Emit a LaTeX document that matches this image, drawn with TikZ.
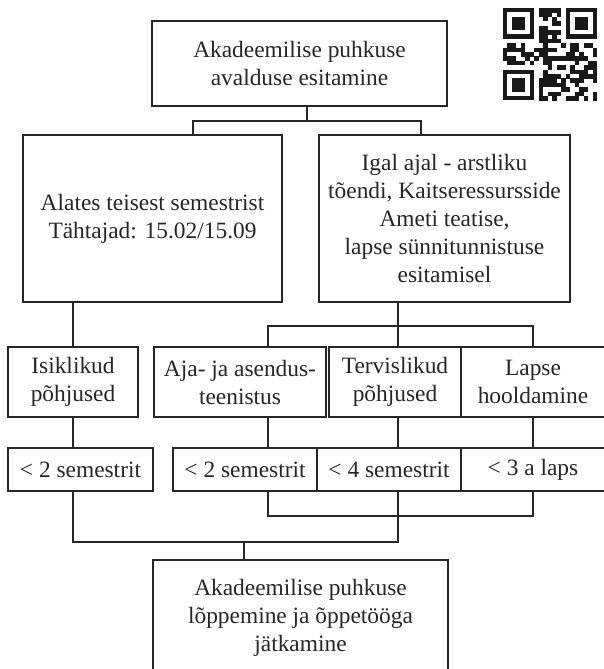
\documentclass[tikz,border=0pt]{standalone}
\usepackage{fontspec}
\setmainfont{Liberation Serif}

\begin{document}
\begin{tikzpicture}[x=1pt,y=-1pt,
    blok/.style={draw=black!85,line width=1.2pt,text=black!85,align=center,
      inner sep=0pt,font=\fontsize{23.4}{28}\selectfont},
    joon/.style={draw=black!85,line width=1.2pt}]
  \useasboundingbox (0,0) rectangle (603,669);
  % kastid
  \node[blok,minimum width=295,minimum height=85]  (avaldus) at (299.5,63.5) {Akadeemilise puhkuse\\avalduse esitamine};
  \node[blok,minimum width=259,minimum height=167] (alates)  at (152.5,218.5) {Alates teisest semestrist\\T\"ahtajad: 15.02/15.09};
  \node[blok,minimum width=251,minimum height=167] (igal)    at (444.5,218.5) {Igal ajal - arstliku\\t\~oendi, Kaitseressursside\\Ameti teatise,\\lapse s\"unnitunnistuse\\esitamisel};
  \node[blok,minimum width=130,minimum height=70]  (isik)    at (73,382)  {Isiklikud\\p\~ohjused};
  \node[blok,minimum width=172,minimum height=70]  (aja)     at (240,382) {Aja- ja asendus-\\teenistus};
  \node[blok,minimum width=132,minimum height=70]  (terv)    at (395,382) {Tervislikud\\p\~ohjused};
  \node[blok,minimum width=144,minimum height=70]  (lapse)   at (533,382) {Lapse\\hooldamine};
  \node[blok,minimum width=145,minimum height=43]  (sem1)    at (80.5,469.5) {< 2 semestrit};
  \node[blok,minimum width=144,minimum height=43]  (sem2)    at (245,469.5)  {< 2 semestrit};
  \node[blok,minimum width=144,minimum height=43]  (sem4)    at (389,469.5)  {< 4 semestrit};
  \node[blok,minimum width=144,minimum height=43]  (laps3)   at (533,469.5)  {< 3 a laps};
  \node[blok,minimum width=295,minimum height=116] (lopp)    at (300.5,618)  {Akadeemilise puhkuse\\l\~oppemine ja \~oppet\"o\"oga\\j\"atkamine};
  % s\~olmed
  \coordinate (j1)  at (307,121);
  \coordinate (j1a) at (193,121);
  \coordinate (j1b) at (421,121);
  \coordinate (j2)  at (398,326);
  \coordinate (j2a) at (268,326);
  \coordinate (j2b) at (533,326);
  \coordinate (j3)  at (398,542);
  \coordinate (j4)  at (268,516);
  \coordinate (j5)  at (244,542);
  % jooned
  \draw[joon] (j1 |- avaldus.south) -- (j1);
  \draw[joon] (j1a |- alates.north) -- (j1a) -- (j1b) -- (j1b |- igal.north);
  \draw[joon] (isik.north |- alates.south) -- (isik.north);
  \draw[joon] (j2 |- igal.south) -- (j2);
  \draw[joon] (j2a |- aja.north) -- (j2a) -- (j2b) -- (lapse.north);
  \draw[joon] (j2) -- (j2 |- terv.north);
  \draw[joon] (isik.south) -- (isik.south |- sem1.north);
  \draw[joon] (j2a |- aja.south) -- (j2a |- sem2.north);
  \draw[joon] (j2 |- terv.south) -- (j2 |- sem4.north);
  \draw[joon] (lapse.south) -- (laps3.north);
  \draw[joon] (isik.south |- sem1.south) |- (j3) -- (j2 |- sem4.south);
  \draw[joon] (j4 |- sem2.south) -- (j4) -| (laps3.south);
  \draw[joon] (j5) -- (j5 |- lopp.north);
  % QR-kood
  \begin{scope}[shift={(502.5,8)},x=4.5pt,y=-4.4pt,black!90]
    \pgfmathsetseed{4321}
    \foreach \i in {0,...,20}{
      \foreach \j in {0,...,20}{
        \pgfmathtruncatemacro\qrbit{((\i<8 && \j<8) || (\i>12 && \j<8) || (\i<8 && \j>12)) ? 0 : (rnd<0.55)}
        \ifnum\qrbit=1 \fill (\i,\j) rectangle +(1.03,1.03); \fi
      }
    }
    \foreach \a/\b in {0/0, 14/0, 0/14}{
      \fill (\a,\b) rectangle +(7,7);
      \fill[white] (\a+1,\b+1) rectangle +(5,5);
      \fill (\a+2,\b+2) rectangle +(3,3);
    }
  \end{scope}
\end{tikzpicture}
\end{document}
